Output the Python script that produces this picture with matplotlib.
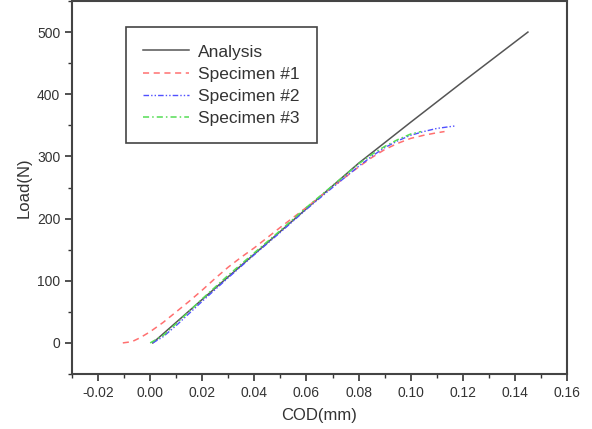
import matplotlib
matplotlib.use("Agg")
import matplotlib.pyplot as plt
from matplotlib.ticker import MultipleLocator

plt.rcParams['font.family'] = ['Liberation Sans', 'DejaVu Sans']

# Data
analysis_x = [0.001, 0.02, 0.04, 0.06, 0.08, 0.10, 0.12, 0.145]
analysis_y = [0, 70, 143, 216, 289, 355, 420, 500]

spec1_x = [-0.0105, -0.007, -0.004, 0.0, 0.005, 0.01, 0.015, 0.02, 0.025, 0.03, 0.035, 0.04,
           0.05, 0.06, 0.07, 0.08, 0.085, 0.09, 0.095, 0.10, 0.105, 0.11, 0.113]
spec1_y = [0, 2, 8, 18, 33, 50, 67, 85, 104, 122, 138, 153,
           186, 218, 251, 283, 298, 311, 321, 329, 334, 338, 340]

spec2_x = [0.001, 0.005, 0.01, 0.02, 0.03, 0.04, 0.05, 0.06, 0.07, 0.08, 0.085, 0.09,
           0.095, 0.10, 0.105, 0.11, 0.117]
spec2_y = [0, 10, 28, 67, 105, 142, 178, 215, 250, 284, 300, 314,
           325, 334, 340, 345, 349]

spec3_x = [0.0, 0.005, 0.01, 0.02, 0.03, 0.04, 0.05, 0.06, 0.07, 0.08, 0.085, 0.09,
           0.095, 0.10, 0.104]
spec3_y = [0, 12, 31, 71, 109, 145, 181, 218, 253, 288, 303, 316,
           327, 336, 340]

labels = ["Analysis", "Specimen #1", "Specimen #2", "Specimen #3"]
x_ticks = [-0.02, 0.00, 0.02, 0.04, 0.06, 0.08, 0.10, 0.12, 0.14, 0.16]
y_ticks = [0, 100, 200, 300, 400, 500]

W, H = 592, 429
fig = plt.figure(figsize=(W / 100, H / 100), dpi=100)
ax = fig.add_axes([72 / W, (H - 374) / H, (567 - 72) / W, (374 - 1) / H])

ax.plot(analysis_x, analysis_y, color='#555555', lw=1.1, label=labels[0])
ax.plot(spec1_x, spec1_y, color='#ff7070', lw=1.1, ls=(0, (4, 3)), label=labels[1])
ax.plot(spec2_x, spec2_y, color='#5050ff', lw=1.0, ls=(0, (4, 1.5, 1, 1.5, 1, 1.5)), label=labels[2])
ax.plot(spec3_x, spec3_y, color='#55dd55', lw=1.1, ls=(0, (4, 2, 1, 2)), label=labels[3])

ax.set_xlim(-0.03, 0.16)
ax.set_ylim(-50, 550)
ax.set_xticks(x_ticks)
ax.set_xticklabels([f"{v:.2f}" for v in x_ticks])
ax.set_yticks(y_ticks)
ax.xaxis.set_minor_locator(MultipleLocator(0.01))
ax.yaxis.set_minor_locator(MultipleLocator(50))
ax.tick_params(which='both', direction='out', top=False, right=False,
               colors='#333333', labelcolor='#333333', labelsize=10)
ax.tick_params(which='major', length=5, width=1.2)
ax.tick_params(which='minor', length=3, width=1.0)
for s in ax.spines.values():
    s.set_color('#444444')
    s.set_linewidth(1.5)

ax.set_xlabel("COD(mm)", fontsize=12, color='#333333', labelpad=6)
ax.set_ylabel("Load(N)", fontsize=12, color='#333333', labelpad=4)

leg = ax.legend(loc='upper left', bbox_to_anchor=(126 / W, 1 - 27 / H),
                bbox_transform=fig.transFigure, fontsize=12.5, fancybox=False,
                handlelength=2.6, handletextpad=0.55, labelspacing=0.4,
                borderpad=1.0, borderaxespad=0, framealpha=1)
leg.get_frame().set_edgecolor('#444444')
leg.get_frame().set_linewidth(1.2)
for t in leg.get_texts():
    t.set_color('#333333')

fig.savefig("out.png", dpi=100)
